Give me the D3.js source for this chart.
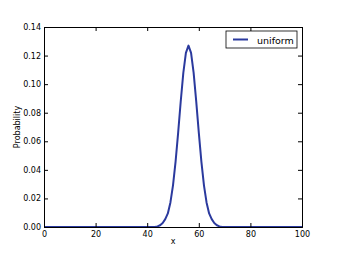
<!DOCTYPE html>
<html>
<head>
<meta charset="utf-8">
<script src="https://cdn.jsdelivr.net/npm/d3@7"></script>
<style>
  body { margin: 0; background: #fff; }
  text { font-family: "DejaVu Sans", sans-serif; }
</style>
</head>
<body>
<div id="chart"></div>
<script>
// curve: x positions and probabilities
var xs = [0, 40,
          43, 44, 45, 46, 47, 48, 49, 50, 51, 52, 53, 54, 55, 56,
          57, 58, 59, 60, 61, 62, 63, 64, 65, 66, 67, 68, 69,
          100];
var probs = [0, 0,
             0, 0.0004, 0.0012, 0.0028, 0.0055, 0.0095, 0.0172, 0.0292, 0.0458, 0.0661, 0.088, 0.1079, 0.1219, 0.127,
             0.1219, 0.1079, 0.088, 0.0661, 0.0458, 0.0292, 0.0172, 0.0095, 0.0055, 0.0028, 0.0012, 0.0004, 0,
             0];
var xTicks = [0, 20, 40, 60, 80, 100];
var yTicks = [0, 0.02, 0.04, 0.06, 0.08, 0.10, 0.12, 0.14];
var seriesName = "uniform";

var width = 338, height = 254;
var margin = {top: 27, right: 36, bottom: 27, left: 44};

var svg = d3.select("#chart").append("svg")
  .attr("width", width)
  .attr("height", height);

var x = d3.scaleLinear().domain([0, 100]).range([margin.left, width - margin.right]);
var y = d3.scaleLinear().domain([0, 0.14]).range([height - margin.bottom, margin.top]);

var data = xs.map((d, i) => ({x: d, p: probs[i]}));

// the curve
svg.append("path")
  .datum(data)
  .attr("fill", "none")
  .attr("stroke", "#2b3a9e")
  .attr("stroke-width", 2)
  .attr("stroke-linejoin", "round")
  .attr("d", d3.line().x(d => x(d.x)).y(d => y(d.p)));

// axes with inward ticks, mpl style
svg.append("g")
  .attr("transform", `translate(0,${y(0)})`)
  .call(d3.axisBottom(x).tickValues(xTicks).tickSize(-4).tickPadding(4).tickFormat(d3.format("d")));
svg.append("g")
  .attr("transform", `translate(0,${y(0.14)})`)
  .call(d3.axisTop(x).tickValues(xTicks).tickSize(-4).tickFormat(""));
svg.append("g")
  .attr("transform", `translate(${x(0)},0)`)
  .call(d3.axisLeft(y).tickValues(yTicks).tickSize(-4).tickPadding(3).tickFormat(d3.format(".2f")));
svg.append("g")
  .attr("transform", `translate(${x(100)},0)`)
  .call(d3.axisRight(y).tickValues(yTicks).tickSize(-4).tickFormat(""));

svg.selectAll(".tick text").attr("font-size", 8).attr("font-family", "DejaVu Sans").attr("fill", "#000");
svg.selectAll(".domain").attr("stroke", "#000");
svg.selectAll(".tick line").attr("stroke", "#000");

// axis labels
svg.append("text")
  .attr("x", x(50)).attr("y", 244)
  .attr("text-anchor", "middle")
  .attr("font-size", 8)
  .text("x");
svg.append("text")
  .attr("transform", `translate(20,${y(0.07)}) rotate(-90)`)
  .attr("text-anchor", "middle")
  .attr("font-size", 8)
  .text("Probability");

// legend
var lg = svg.append("g").attr("transform", "translate(226,31)");
lg.append("rect")
  .attr("width", 71).attr("height", 17)
  .attr("fill", "#fff").attr("stroke", "#000").attr("stroke-width", 0.8);
lg.append("line")
  .attr("x1", 7).attr("x2", 22).attr("y1", 8.5).attr("y2", 8.5)
  .attr("stroke", "#2b3a9e").attr("stroke-width", 2);
lg.append("text")
  .attr("x", 31).attr("y", 12.5)
  .attr("font-size", 9.5)
  .text(seriesName);
</script>
</body>
</html>
